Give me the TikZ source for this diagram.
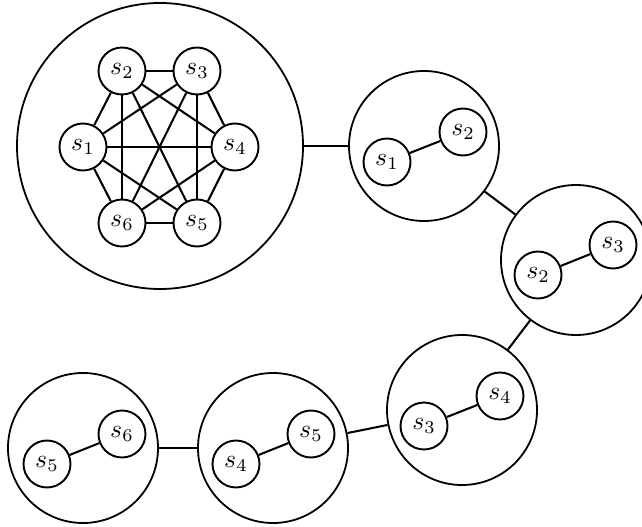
\documentclass[tikz,border=0pt]{standalone}
\begin{document}
\begin{tikzpicture}[x=0.39pt,y=-0.39pt,
  grp/.style={circle,draw,line width=0.7pt,inner sep=0pt},
  st/.style={circle,draw,line width=0.75pt,inner sep=0pt,minimum size=47*0.39pt},
  edge/.style={line width=0.8pt}]
\useasboundingbox (0,0) rectangle (642,526);
% containers
\node[grp,minimum size=286*0.39pt] (c1) at (160,146) {};
\node[grp,minimum size=150*0.39pt] (c2) at (424,146) {};
\node[grp,minimum size=150*0.39pt] (c3) at (576,260) {};
\node[grp,minimum size=150*0.39pt] (c4) at (462,410) {};
\node[grp,minimum size=150*0.39pt] (c5) at (273,448) {};
\node[grp,minimum size=150*0.39pt] (c6) at (83,448) {};
% complete graph
\node[st] (k1) at (83,147) {$s_1$};
\node[st] (k2) at (122,71) {$s_2$};
\node[st] (k3) at (197,71) {$s_3$};
\node[st] (k4) at (235,147) {$s_4$};
\node[st] (k5) at (197,223) {$s_5$};
\node[st] (k6) at (122,223) {$s_6$};
\foreach \i/\j in {1/2,1/3,1/4,1/5,1/6,2/3,2/4,2/5,2/6,3/4,3/5,3/6,4/5,4/6,5/6}
  \draw[edge] (k\i) -- (k\j);
% pairs
\node[st] (p21) at (387,162) {$s_1$};
\node[st] (p22) at (463,132) {$s_2$};
\node[st] (p32) at (538,275) {$s_2$};
\node[st] (p33) at (613,245) {$s_3$};
\node[st] (p43) at (424,426) {$s_3$};
\node[st] (p44) at (500,396) {$s_4$};
\node[st] (p54) at (236,464) {$s_4$};
\node[st] (p55) at (311,434) {$s_5$};
\node[st] (p65) at (47,464) {$s_5$};
\node[st] (p66) at (122,434) {$s_6$};
\draw[edge] (p21) -- (p22);
\draw[edge] (p32) -- (p33);
\draw[edge] (p43) -- (p44);
\draw[edge] (p54) -- (p55);
\draw[edge] (p65) -- (p66);
% connectors between containers
\draw[edge] (c1) -- (c2);
\draw[edge] (c2) -- (c3);
\draw[edge] (c3) -- (c4);
\draw[edge] (c4) -- (c5);
\draw[edge] (c5) -- (c6);
\end{tikzpicture}
\end{document}
